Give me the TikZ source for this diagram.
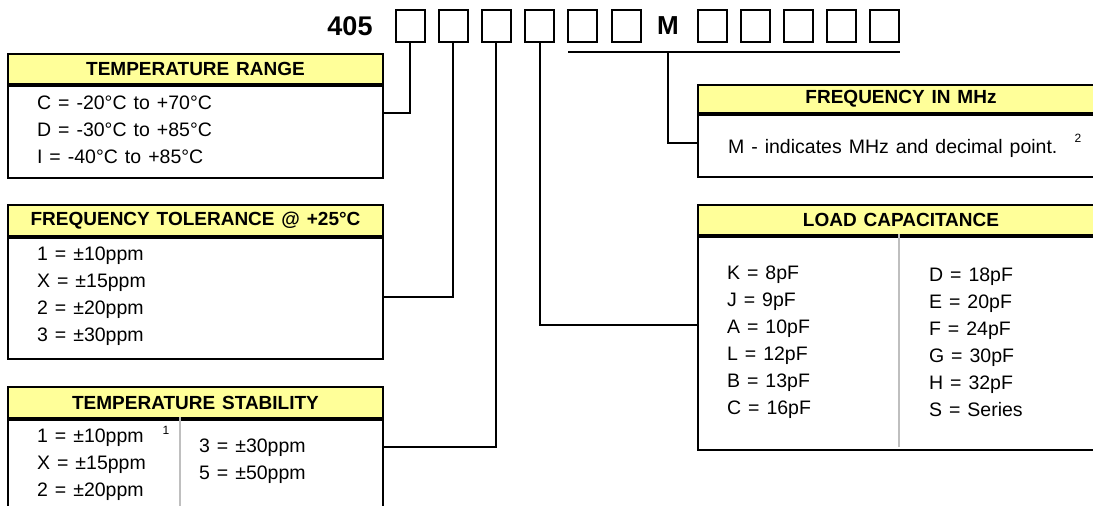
\documentclass[tikz,border=0pt]{standalone}
\usepackage{fontspec}
\setmainfont[WordSpace=1.3]{Liberation Sans}
\usetikzlibrary{positioning, calc}
\definecolor{headyellow}{RGB}{255,255,153}

\begin{document}
\begin{tikzpicture}[x=1pt,y=-1pt,line width=2pt,
digit/.style={draw, minimum width=29pt, minimum height=32pt, inner sep=0pt},
head/.style={draw, fill=headyellow, anchor=north west, inner sep=0pt,
  font=\fontsize{19}{19}\bfseries},
panel/.style={draw, anchor=north west, inner sep=0pt},
entry/.style={anchor=west, align=left, inner sep=0pt,
  font=\fontsize{19.5}{27}\selectfont},
note/.style={inner sep=0pt, font=\fontsize{12}{12}\selectfont},
split/.style={black!25}]

  \useasboundingbox (0,0) rectangle (1093,506);
  \clip (0,0) rectangle (1093,506);

  % part number 405 xxxxxx M xxxxx
  \node [font=\fontsize{27}{27}\bfseries] (pn) at (350,26) {405};
  \foreach \i/\x in {1/410, 2/453.2, 3/496.4, 4/539.6, 5/582.8, 6/626}
    \node [digit] (d\i) at (\x,26) {};
  \node [font=\fontsize{26}{26}\bfseries] (m) at (668,26) {M};
  \foreach \i/\x in {7/712, 8/755.2, 9/798.4, 10/841.6, 11/884.8}
    \node [digit] (d\i) at (\x,26) {};
  \coordinate (ul-l) at (568,52);
  \coordinate (ul-r) at (900,52);
  \coordinate (ul-m) at (668,52);
  \draw (ul-l) -- (ul-r);

  % temperature range
  \node [head, minimum width=375pt, minimum height=30pt] (trange-head) at (7,53) {TEMPERATURE RANGE};
  \node [panel, minimum width=375pt, minimum height=92pt] (trange) at (trange-head.south west) {};
  \draw [line width=3.5pt] (trange-head.south west) -- (trange-head.south east);
  \node [entry] (trange-txt) at (36,130) {C = -20°C to +70°C\\D = -30°C to +85°C\\I = -40°C to +85°C};

  % frequency tolerance
  \node [head, minimum width=375pt, minimum height=31pt] (ftol-head) at (7,204) {FREQUENCY TOLERANCE @ +25°C};
  \node [panel, minimum width=375pt, minimum height=121pt] (ftol) at (ftol-head.south west) {};
  \draw [line width=3.5pt] (ftol-head.south west) -- (ftol-head.south east);
  \node [entry] (ftol-txt) at (36,296) {1 = ±10ppm\\X = ±15ppm\\2 = ±20ppm\\3 = ±30ppm};

  % temperature stability
  \node [head, minimum width=375pt, minimum height=31pt] (tstab-head) at (7,386) {TEMPERATURE STABILITY};
  \node [panel, minimum width=375pt, minimum height=120pt] (tstab) at (tstab-head.south west) {};
  \draw [line width=3.5pt] (tstab-head.south west) -- (tstab-head.south east);
  \draw [split] (180,417) -- (180,540);
  \node [entry] (tstab-l) at (36,465) {1 = ±10ppm\\X = ±15ppm\\2 = ±20ppm};
  \node [note] (fn1) at (166,430) {1};
  \node [entry] (tstab-r) at (198,461.5) {3 = ±30ppm\\5 = ±50ppm};

  % frequency in MHz
  \node [head, minimum width=406pt, minimum height=28pt] (freq-head) at (697,84) {FREQUENCY IN MHz};
  \node [panel, minimum width=406pt, minimum height=62pt] (freq) at (freq-head.south west) {};
  \draw [line width=3.5pt] (freq-head.south west) -- (freq-head.south east);
  \node [entry] (freq-txt) at (727,148) {M - indicates MHz and decimal point.};
  \node [note] (fn2) at (1078,138) {2};

  % load capacitance
  \node [head, minimum width=406pt, minimum height=30pt] (load-head) at (697,204) {LOAD CAPACITANCE};
  \node [panel, minimum width=406pt, minimum height=213pt] (load) at (load-head.south west) {};
  \draw [line width=3.5pt] (load-head.south west) -- (load-head.south east);
  \draw [split] (899,234) -- (899,447);
  \node [entry] (load-l) at (726,342.5) {K = 8pF\\J = 9pF\\A = 10pF\\L = 12pF\\B = 13pF\\C = 16pF};
  \node [entry] (load-r) at (928,342.5) {D = 18pF\\E = 20pF\\F = 24pF\\G = 30pF\\H = 32pF\\S = Series};

  % connectors
  \coordinate (j1) at (382,113);
  \coordinate (j2) at (382,297);
  \coordinate (j3) at (382,447);
  \coordinate (j4) at (697,325);
  \coordinate (j5) at (697,143);
  \draw (d1.south) |- (j1);
  \draw (d2.south) |- (j2);
  \draw (d3.south) |- (j3);
  \draw (d4.south) |- (j4);
  \draw (ul-m) |- (j5);
\end{tikzpicture}
\end{document}
